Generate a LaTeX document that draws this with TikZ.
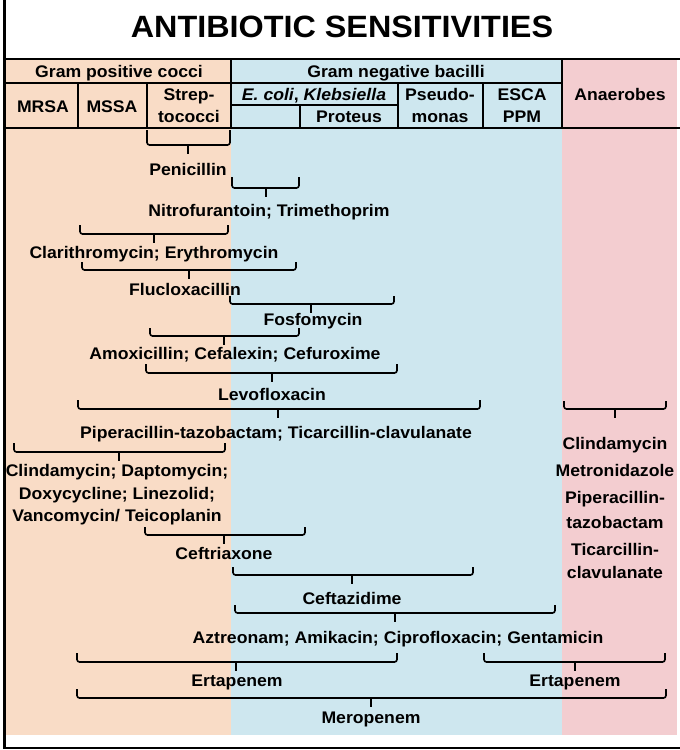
\documentclass[tikz,border=0pt]{standalone}
\usepackage{fontspec}
\setmainfont{Liberation Sans}[FakeStretch=1.05]
\definecolor{peach}{RGB}{249,220,198}
\definecolor{skyb}{RGB}{206,231,239}
\definecolor{rosep}{RGB}{243,205,208}
\newcommand\abBr[5]{%
  \draw[brk] (#1,#3) |- (#5,#4) -| (#2,#3);
  \draw[brk] (#5,#4) -- (#5,#4+9);}
\begin{document}
\begin{tikzpicture}[x=1pt,y=-1pt,
  lbl/.style={font=\fontsize{16.8}{20}\selectfont\bfseries, anchor=base, inner sep=0pt},
  ttl/.style={font=\fontsize{30.8}{31}\selectfont\bfseries, anchor=base, inner sep=0pt},
  brk/.style={line width=1.6pt, rounded corners=2.5pt},
  hl/.style={line width=1.8pt},
  frame/.style={line width=2.4pt}]
\useasboundingbox (0,0) rectangle (680,750);
\fill[white] (0,0) rectangle (680,750);
% colour bands
\fill[peach] (6,59) rectangle (231,735);
\fill[skyb] (231,59) rectangle (562,735);
\fill[rosep] (562,59) rectangle (677,735);
% frame
\draw[frame] (4.5,0) -- (4.5,748) -- (680,748);
% title
\node[ttl] (title) at (342,37) {ANTIBIOTIC SENSITIVITIES};
% header grid
\draw[hl] (4,59) -- (680,59);
\draw[hl] (4,128) -- (680,128);
\draw[hl] (4,83) -- (562,83);
\draw[hl] (231,105) -- (398,105);
\draw[hl] (78,83) -- (78,128);
\draw[hl] (147,83) -- (147,128);
\draw[hl] (231,59) -- (231,128);
\draw[hl] (300,105) -- (300,128);
\draw[hl] (398,83) -- (398,128);
\draw[hl] (483,83) -- (483,128);
\draw[hl] (562,59) -- (562,128);
% header texts
\node[lbl] (gpc) at (119,77) {Gram positive cocci};
\node[lbl] (gnb) at (396,77) {Gram negative bacilli};
\node[lbl] (anaer) at (620,100) {Anaerobes};
\node[lbl] (mrsa) at (43,112) {MRSA};
\node[lbl] (mssa) at (112,112) {MSSA};
\node[lbl] (strepA) at (189,100) {Strep-};
\node[lbl] (strepB) at (189,122) {tococci};
\node[lbl] (ecoli) at (314,100) {{\itshape E. coli}, {\itshape Klebsiella}};
\node[lbl] (proteus) at (349,122) {Proteus};
\node[lbl] (pseudoA) at (440,100) {Pseudo-};
\node[lbl] (pseudoB) at (440,122) {monas};
\node[lbl] (escaA) at (522,100) {ESCA};
\node[lbl] (escaB) at (522,122) {PPM};
% brackets and drug names
\abBr{147}{230}{130}{145}{188}
\node[lbl] (pen) at (188,175) {Penicillin};
\abBr{232}{299}{177}{188}{266}
\node[lbl] (nitro) at (269,216) {Nitrofurantoin; Trimethoprim};
\abBr{80}{228}{225}{234}{154}
\node[lbl] (clari) at (154,258) {Clarithromycin; Erythromycin};
\abBr{82}{296}{262}{270}{189}
\node[lbl] (fluc) at (185,295) {Flucloxacillin};
\abBr{230}{394}{296}{304}{311}
\node[lbl] (fosfo) at (313,325) {Fosfomycin};
\abBr{150}{299}{328}{336}{224}
\node[lbl] (amox) at (235,359) {Amoxicillin; Cefalexin; Cefuroxime};
\abBr{146}{397}{364}{373}{272}
\node[lbl] (levo) at (272,400) {Levofloxacin};
\abBr{78}{480}{400}{409}{278}
\node[lbl] (pip) at (276,438) {Piperacillin-tazobactam; Ticarcillin-clavulanate};
\abBr{564}{666}{401}{409}{615}
\node[lbl] (anaA) at (615,449) {Clindamycin};
\node[lbl] (anaB) at (615,476) {Metronidazole};
\node[lbl] (anaC) at (615,503) {Piperacillin-};
\node[lbl] (anaD) at (615,528) {tazobactam};
\node[lbl] (anaE) at (615,555) {Ticarcillin-};
\node[lbl] (anaF) at (615,578) {clavulanate};
\abBr{14}{225}{443}{452}{119}
\node[lbl] (clinA) at (117,476) {Clindamycin; Daptomycin;};
\node[lbl] (clinB) at (117,499) {Doxycycline; Linezolid;};
\node[lbl] (clinC) at (117,521) {Vancomycin/ Teicoplanin};
\abBr{145}{305}{527}{535}{224}
\node[lbl] (ceftri) at (224,559) {Ceftriaxone};
\abBr{233}{473}{567}{575}{352}
\node[lbl] (ceftaz) at (352,604) {Ceftazidime};
\abBr{235}{555}{605}{613}{395}
\node[lbl] (aztr) at (398,643) {Aztreonam; Amikacin; Ciprofloxacin; Gentamicin};
\abBr{77}{397}{653}{662}{236}
\node[lbl] (ertaL) at (237,686) {Ertapenem};
\abBr{484}{665}{653}{662}{575}
\node[lbl] (ertaR) at (575,686) {Ertapenem};
\abBr{77}{666}{689}{698}{371}
\node[lbl] (mero) at (371,723) {Meropenem};
\end{tikzpicture}
\end{document}
